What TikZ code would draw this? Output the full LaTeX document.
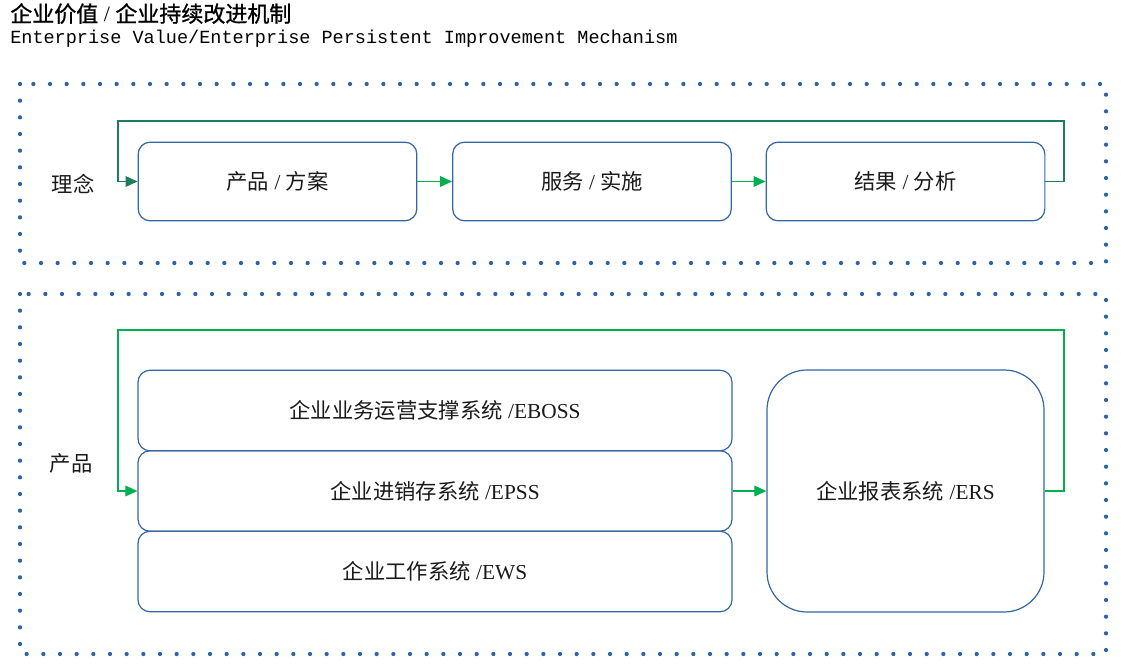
\documentclass[tikz,border=0pt]{standalone}
\usepackage{fontspec}
\setmainfont{Liberation Serif}
\newfontfamily\cjk{Noto Sans CJK SC}
\newfontfamily\cjkbold[FakeBold=1]{Noto Sans CJK SC}
\newfontfamily\mono{Liberation Mono}
\usetikzlibrary{arrows.meta}
\definecolor{boxblue}{HTML}{3465A4}
\definecolor{dotblue}{HTML}{2F63A5}
\definecolor{loopteal}{HTML}{1E7B5F}
\definecolor{arrowgreen}{HTML}{00B050}
\definecolor{txt}{HTML}{1A1A1A}

\tikzset{
  box/.style={draw=boxblue, line width=0.9pt, rounded corners=9pt, text=txt,
    font=\fontsize{16}{19}\selectfont, inner sep=0pt},
  wide/.style={box, minimum width=209pt, minimum height=59pt},
  sysbox/.style={box, minimum width=445.5pt, minimum height=60.4pt},
  frame/.style={dotblue, line width=3.2pt, line cap=round, dash pattern=on 0pt off 12.5pt},
  flow/.style={line width=0.8pt, -{Triangle[length=9pt,width=8pt]}},
  tag/.style={text=txt, font=\fontsize{16}{19}\selectfont}
}

\begin{document}
\begin{tikzpicture}[x=0.75pt, y=-0.75pt]
  \useasboundingbox (0,0) rectangle (1123,670);

  % Title
  \node[anchor=base west, inner sep=0pt, font=\fontsize{16.5}{19}\selectfont] (title) at (10,22)
    {{\cjkbold 企业价值} / {\cjkbold 企业持续改进机制}};
  \node[anchor=base west, inner sep=0pt, font=\mono\fontsize{13.9}{17}\selectfont] (subtitle) at (10,44)
    {Enterprise Value/Enterprise Persistent Improvement Mechanism};

  % Dotted frames
  \draw[frame] (20,84) rectangle (1106,263);
  \draw[frame] (20,294) rectangle (1106,654);

  % Upper part
  \node[tag] (idea) at (73,184) {\cjk 理念};
  \node[wide] (prod) at (277.5,181.5) {{\cjk 产品} / {\cjk 方案}};
  \node[wide] (serv) at (592,181.5) {{\cjk 服务} / {\cjk 实施}};
  \node[wide] (res) at (905.5,181.5) {{\cjk 结果} / {\cjk 分析}};

  \draw[flow, arrowgreen] (prod) -- (serv);
  \draw[flow, arrowgreen] (serv) -- (res);

  \coordinate (topR) at (1064,121);
  \coordinate (topL) at (118,121);
  \draw[flow, loopteal] (res.east) -| (topR) -- (topL) |- (prod.west);

  % Lower part
  \node[tag] (product) at (71,463) {\cjk 产品};
  \node[sysbox] (eboss) at (435,410.5) {{\cjk 企业业务运营支撑系统} /EBOSS};
  \node[sysbox] (epss) at (435,491) {{\cjk 企业进销存系统} /EPSS};
  \node[sysbox] (ews) at (435,571.5) {{\cjk 企业工作系统} /EWS};
  \node[box, rounded corners=30pt, minimum width=207.75pt, minimum height=181.5pt] (ers) at (905.5,491)
    {{\cjk 企业报表系统} /ERS};

  \draw[flow, arrowgreen] (epss) -- (ers);

  \coordinate (botR) at (1064,330);
  \coordinate (botL) at (118,330);
  \draw[flow, arrowgreen] (ers.east) -| (botR) -- (botL) |- (epss.west);

\end{tikzpicture}
\end{document}
